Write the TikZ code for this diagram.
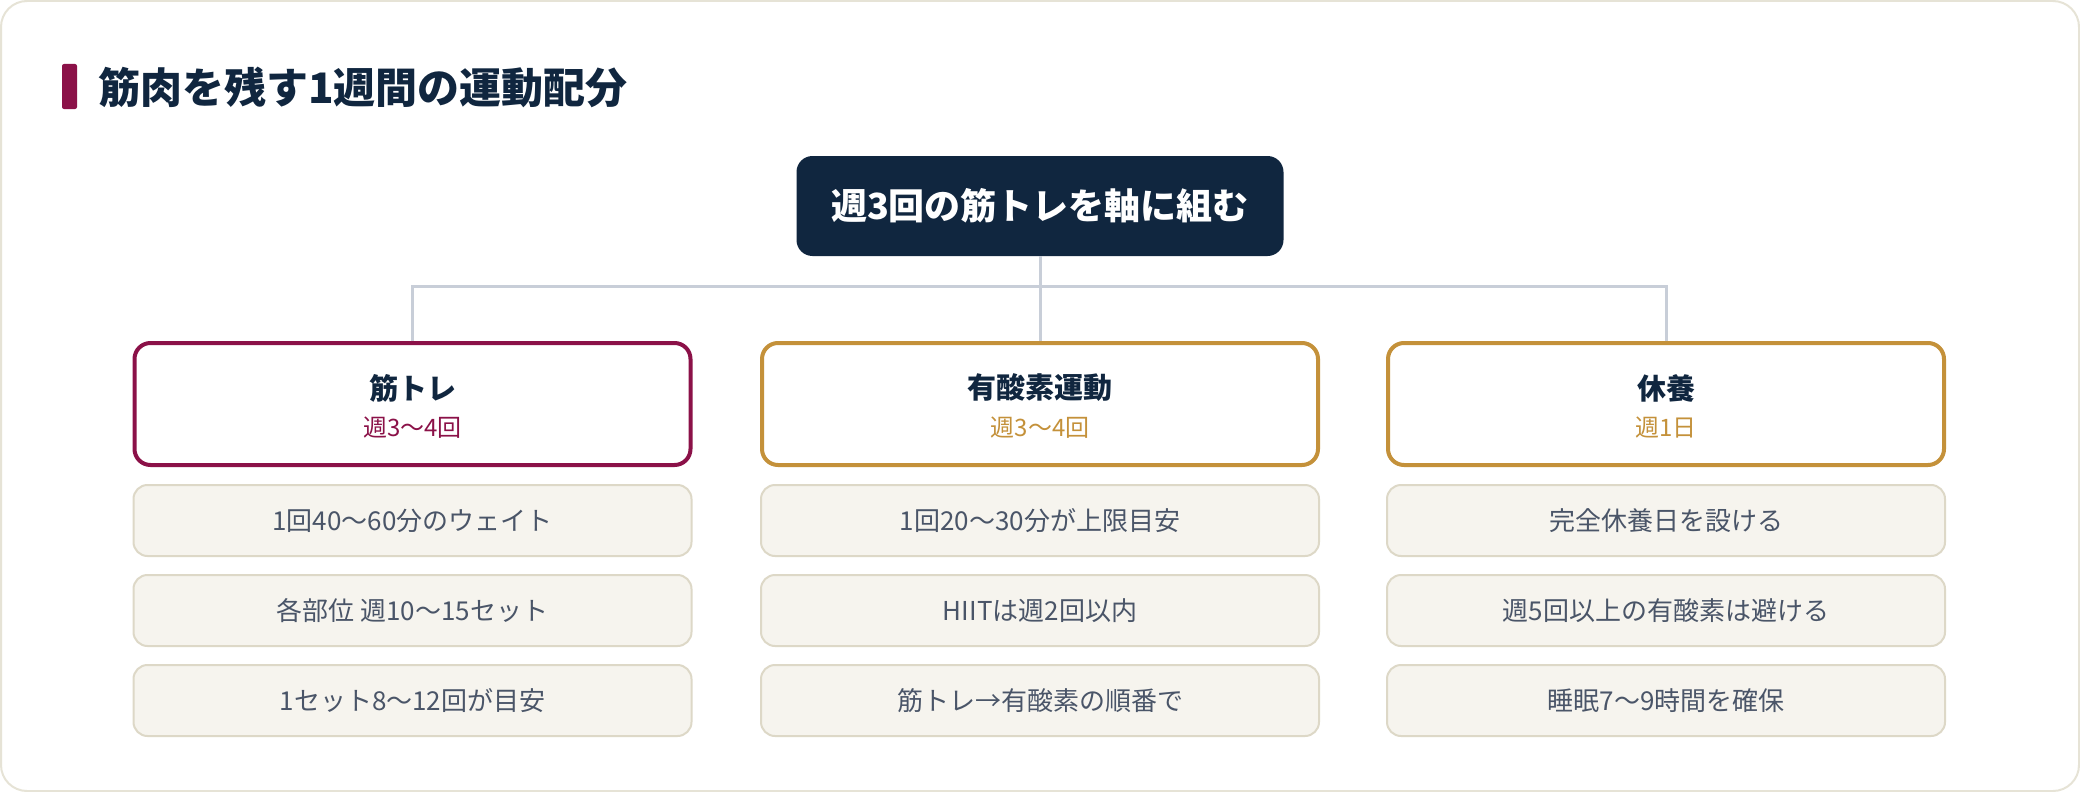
\documentclass[tikz,border=0pt]{standalone}
\usepackage{fontspec}
\setmainfont{Noto Sans CJK JP}
\definecolor{navy}{HTML}{10263F}
\definecolor{maroon}{HTML}{8B1148}
\definecolor{gold}{HTML}{C4913A}
\definecolor{itemfill}{HTML}{F6F4EE}
\definecolor{itemborder}{HTML}{DDD8C7}
\definecolor{itemtext}{HTML}{4A5568}
\definecolor{conn}{HTML}{C8CED8}
\definecolor{outer}{HTML}{E6E3D6}
\tikzset{
  headbox/.style={draw=#1, line width=4pt, rounded corners=16pt, fill=white,
    minimum width=556pt, minimum height=122pt, inner sep=0pt},
  itembox/.style={draw=itemborder, line width=2pt, rounded corners=14pt, fill=itemfill,
    minimum width=558pt, minimum height=71pt, inner sep=0pt,
    font=\fontsize{26pt}{30pt}\selectfont, text=itemtext},
  headtitle/.style={font=\bfseries\fontsize{29pt}{33pt}\selectfont, text=navy, inner sep=0pt},
  headsub/.style={font=\fontsize{24pt}{28pt}\selectfont, text=#1, inner sep=0pt},
  connline/.style={draw=conn, line width=3pt},
}
\begin{document}
\begin{tikzpicture}[x=1pt,y=-1pt]
\useasboundingbox (0,0) rectangle (2080,792);
\draw[outer, line width=2pt, fill=white, rounded corners=26pt] (1,1) rectangle (2079,791);
% title
\fill[maroon, rounded corners=2pt] (62,64) rectangle (77,109);
\node[anchor=west, inner sep=0pt, text=navy, font=\bfseries\fontsize{42pt}{46pt}\selectfont] (title) at (98,87) {筋肉を残す1週間の運動配分};
% top node
\node[fill=navy, rounded corners=16pt, minimum width=487pt, minimum height=100pt, inner sep=0pt,
  text=white, font=\bfseries\fontsize{36pt}{40pt}\selectfont] (top) at (1040,206) {週3回の筋トレを軸に組む};
% headers
\node[headbox=maroon] (h1) at (412.5,404) {};
\node[headbox=gold] (h2) at (1040,404) {};
\node[headbox=gold] (h3) at (1666,404) {};
\node[headtitle] (t1) at (412.5,388) {筋トレ};
\node[headsub=maroon] (s1) at (412.5,428) {週3〜4回};
\node[headtitle] (t2) at (1040,388) {有酸素運動};
\node[headsub=gold] (s2) at (1040,428) {週3〜4回};
\node[headtitle] (t3) at (1666,388) {休養};
\node[headsub=gold] (s3) at (1666,428) {週1日};
% connectors
\coordinate (j) at (1040,286);
\draw[connline] (top.south) -- (j);
\draw[connline] (h1.north) |- (j) -| (h3.north);
\draw[connline] (j) -- (h2.north);
% items
\node[itembox] (a1) at (412.5,520.5) {1回40〜60分のウェイト};
\node[itembox] (a2) at (412.5,610.5) {各部位 週10〜15セット};
\node[itembox] (a3) at (412.5,700.5) {1セット8〜12回が目安};
\node[itembox] (b1) at (1040,520.5) {1回20〜30分が上限目安};
\node[itembox] (b2) at (1040,610.5) {HIITは週2回以内};
\node[itembox] (b3) at (1040,700.5) {筋トレ→有酸素の順番で};
\node[itembox] (c1) at (1666,520.5) {完全休養日を設ける};
\node[itembox] (c2) at (1666,610.5) {週5回以上の有酸素は避ける};
\node[itembox] (c3) at (1666,700.5) {睡眠7〜9時間を確保};
\end{tikzpicture}
\end{document}
